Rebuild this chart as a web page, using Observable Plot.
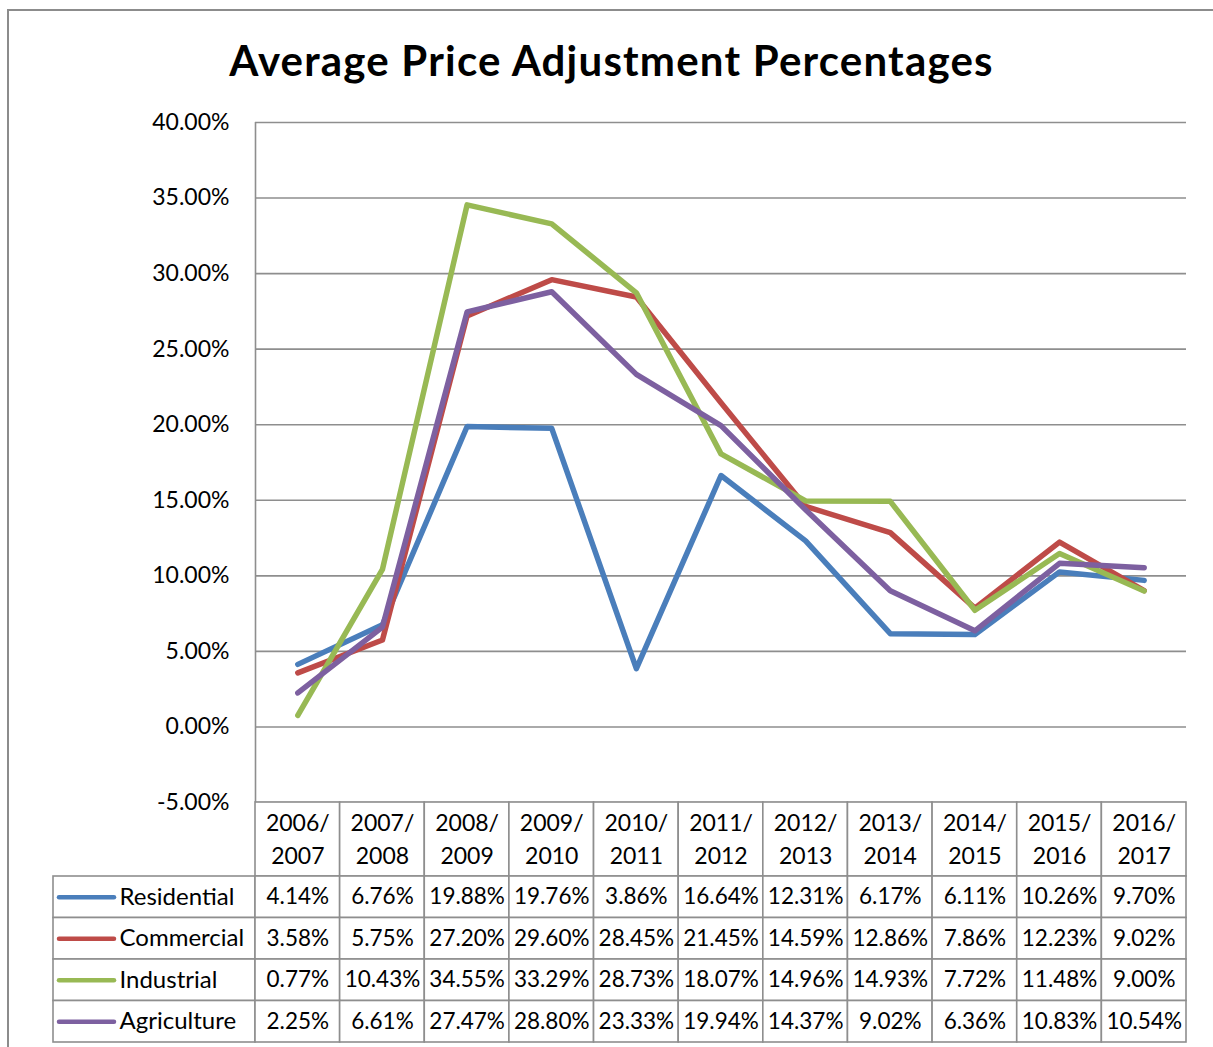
<!DOCTYPE html>
<html>
<head>
<meta charset="utf-8">
<script src="https://cdn.jsdelivr.net/npm/d3@7"></script>
<script src="https://cdn.jsdelivr.net/npm/@observablehq/plot@0.6"></script>
<style>
  html, body { margin: 0; padding: 0; background: #fff; overflow: hidden; }
  #wrap { position: relative; width: 1213px; height: 1047px; overflow: hidden; background: #fff; color: #000; font-family: Lato, "Open Sans", sans-serif; }
  #border { position: absolute; left: 7px; top: 9px; width: 1400px; height: 1200px; border: 2px solid #8c8c8c; box-sizing: border-box; }
  #title { position: absolute; left: 8px; width: 1207px; top: 34px; text-align: center; font-weight: 700; font-size: 42px; letter-spacing: 1.2px; line-height: 52px; }
  #chart { position: absolute; left: 0; top: 0; }
  #table { position: absolute; left: 0; top: 800px; }
  svg { overflow: visible; }
</style>
</head>
<body>
<div id="wrap">
  <div id="border"></div>
  <div id="title">Average Price Adjustment Percentages</div>
  <div id="chart"></div>
  <div id="table"></div>
</div>
<script>
const years = ["2006/2007","2007/2008","2008/2009","2009/2010","2010/2011","2011/2012","2012/2013","2013/2014","2014/2015","2015/2016","2016/2017"];
const series = ["Residential","Commercial","Industrial","Agriculture"];
const residential = [4.14, 6.76, 19.88, 19.76, 3.86, 16.64, 12.31, 6.17, 6.11, 10.26, 9.70];
const commercial  = [3.58, 5.75, 27.20, 29.60, 28.45, 21.45, 14.59, 12.86, 7.86, 12.23, 9.02];
const industrial  = [0.77, 10.43, 34.55, 33.29, 28.73, 18.07, 14.96, 14.93, 7.72, 11.48, 9.00];
const agriculture = [2.25, 6.61, 27.47, 28.80, 23.33, 19.94, 14.37, 9.02, 6.36, 10.83, 10.54];
const yTicks = [-5, 0, 5, 10, 15, 20, 25, 30, 35, 40];
const colors = ["#4A7EBB", "#BE4B48", "#98B954", "#7D60A0"];

const valuesBySeries = [residential, commercial, industrial, agriculture];
const data = series.flatMap((s, k) => valuesBySeries[k].map((v, i) => ({series: s, k, i, year: years[i], value: v})));
const fmt = v => v.toFixed(2) + "%";

const gray = "#8e8e8e";
const axisX = 255, rightX = 1186, legendLeftPx = 53;
const n = years.length;
const step = (rightX - axisX) / n;
const xLeft = -0.5 - (axisX - legendLeftPx) / step;
const FONT = "Lato, 'Open Sans', sans-serif";

const chart = Plot.plot({
  width: 1213, height: 803,
  marginTop: 122, marginBottom: 1, marginLeft: axisX, marginRight: 1213 - rightX,
  x: {domain: [-0.5, n - 0.5], range: [axisX, rightX], axis: null},
  y: {domain: [-5, 40], range: [802, 122], axis: null},
  color: {domain: series, range: colors},
  style: {fontFamily: FONT, fontSize: "23px", background: "transparent", color: "#000"},
  marks: [
    Plot.ruleY(yTicks, {stroke: gray, strokeWidth: 1.6}),
    Plot.ruleX([-0.5], {stroke: gray, strokeWidth: 1.6}),
    Plot.text(yTicks, {y: d => d, text: d => fmt(d), frameAnchor: "left", textAnchor: "end", dx: -26, fontSize: 23, fill: "#000"}),
    Plot.line(data, {x: "i", y: "value", z: "series", stroke: "series", strokeWidth: 5.5, strokeLinecap: "round", strokeLinejoin: "round"})
  ]
});
document.getElementById("chart").appendChild(chart);

const H = 74 / 41.5;
const rowTop = 2, rowPx = 41.5;
const tableHeight = 247;
const table = Plot.plot({
  width: 1213, height: tableHeight,
  marginTop: rowTop, marginBottom: tableHeight - rowTop - (H + 4) * rowPx, marginLeft: legendLeftPx, marginRight: 1213 - rightX,
  x: {domain: [xLeft, n - 0.5], range: [legendLeftPx, rightX], axis: null},
  y: {domain: [0, H + 4], range: [rowTop, rowTop + (H + 4) * rowPx], axis: null},
  color: {domain: series, range: colors},
  style: {fontFamily: FONT, fontSize: "22px", background: "transparent", color: "#000"},
  marks: [
    Plot.rect(years, {x1: (d, i) => i - 0.5, x2: (d, i) => i + 0.5, y1: () => 0, y2: () => H, fill: "white", stroke: gray, strokeWidth: 1.6}),
    Plot.text(years, {x: (d, i) => i, y: () => H / 2, dy: -3, text: d => d.replace("/", "/\n"), lineHeight: 1.45, fontSize: 23, fill: "#000"}),
    Plot.rect(series, {x1: () => xLeft, x2: () => -0.5, y1: (s, k) => H + k, y2: (s, k) => H + k + 1, fill: "white", stroke: gray, strokeWidth: 1.6}),
    Plot.rect(data, {x1: d => d.i - 0.5, x2: d => d.i + 0.5, y1: d => H + d.k, y2: d => H + d.k + 1, fill: "white", stroke: gray, strokeWidth: 1.6}),
    Plot.text(data, {x: "i", y: d => H + d.k + 0.5, text: d => fmt(d.value), fontSize: 22.5, fill: "#000"}),
    Plot.ruleY(series, {y: (s, k) => H + k + 0.5, x1: () => xLeft + 6 / step, x2: () => xLeft + 61 / step, stroke: s => s, strokeWidth: 4.5, strokeLinecap: "round"}),
    Plot.text(series, {x: () => xLeft + 66 / step, y: (s, k) => H + k + 0.5, text: s => s, textAnchor: "start", fontSize: 24, letterSpacing: 0.6, fill: "#000"})
  ]
});
document.getElementById("table").appendChild(table);
</script>
</body>
</html>
